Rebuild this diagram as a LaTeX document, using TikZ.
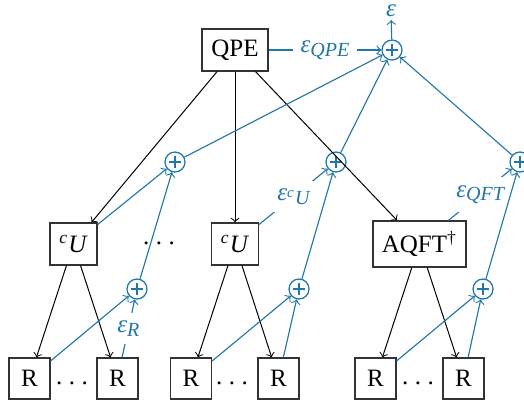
\documentclass[tikz,border=0pt]{standalone}
\usepackage{fontspec}
\setmainfont{Liberation Serif}
\definecolor{eblue}{RGB}{30,118,170}
\newcommand{\errsub}[1]{\raisebox{-1.4pt}{\fontsize{8}{9}\selectfont\itshape #1}}
\begin{document}
\begin{tikzpicture}[x=0.4pt,y=-0.4pt,
  box/.style={draw=black!80, line width=0.5pt, inner sep=1pt, minimum height=16.8pt},
  rbox/.style={box, minimum width=16.4pt, minimum height=16.4pt},
  sumnode/.style={circle, draw=eblue, line width=0.5pt, minimum size=8pt, inner sep=0pt,
    path picture={\draw[eblue, line width=0.9pt]
      ([xshift=-2.5pt]path picture bounding box.center) -- ([xshift=2.5pt]path picture bounding box.center)
      ([yshift=-2.5pt]path picture bounding box.center) -- ([yshift=2.5pt]path picture bounding box.center);}},
  tree/.style={->, black, line width=0.4pt},
  err/.style={->, eblue, line width=0.45pt},
  lab/.style={midway, fill=white, text=eblue, inner sep=3.2pt, font=\itshape}]
\useasboundingbox (0,0) rectangle (524,403);
% main nodes
\node[box, minimum width=26.4pt] (qpe) at (235,50) {QPE};
\node[sumnode] (s0) at (392,50) {};
\node[text=eblue, inner sep=1pt, font=\itshape] (eps) at (391,11) {ε};
\node[box, minimum width=18.8pt] (cu1) at (73.5,244) {\textsuperscript{\itshape c}\textit{U}};
\node[box, minimum width=18.8pt] (cu2) at (235,244) {\textsuperscript{\itshape c}\textit{U}};
\node[box, minimum width=37.2pt, minimum height=18.4pt] (aqft) at (419.5,244) {AQFT\textsuperscript{†}};
\node[inner sep=0pt] (d0) at (159,243) {.\hspace{2.6pt}.\hspace{2.6pt}.};
\node[sumnode] (s1) at (175,162) {};
\node[sumnode] (s2) at (336,162) {};
\node[sumnode] (s3) at (520,162) {};
\node[sumnode] (t1) at (137,289) {};
\node[sumnode] (t2) at (299,289) {};
\node[sumnode] (t3) at (483,289) {};
\node[rbox] (r1) at (29.5,378.5) {R};
\node[rbox] (r2) at (117.5,378.5) {R};
\node[rbox] (r3) at (191,378.5) {R};
\node[rbox] (r4) at (278.5,378.5) {R};
\node[rbox] (r5) at (375.5,378.5) {R};
\node[rbox] (r6) at (463.5,378.5) {R};
\node[inner sep=0pt] (d1) at (72,383) {.\hspace{2.6pt}.\hspace{2.6pt}.};
\node[inner sep=0pt] (d2) at (232,383) {.\hspace{2.6pt}.\hspace{2.6pt}.};
\node[inner sep=0pt] (d3) at (418,383) {.\hspace{2.6pt}.\hspace{2.6pt}.};
% tree edges
\draw[tree] (qpe) -- (cu1);
\draw[tree] (qpe) -- (cu2);
\draw[tree] (qpe) -- (aqft);
\draw[tree] (cu1) -- (r1);
\draw[tree] (cu1) -- (r2);
\draw[tree] (cu2) -- (r3);
\draw[tree] (cu2) -- (r4);
\draw[tree] (aqft) -- (r5);
\draw[tree] (aqft) -- (r6);
% error edges
\draw[err] (qpe) -- node[lab] {ε\errsub{QPE}} (s0);
\draw[err] (s0) -- (eps);
\draw[err] (s1) -- (s0);
\draw[err] (s2) -- (s0);
\draw[err] (s3) -- (s0);
\draw[err] (cu1) -- (s1);
\draw[err] (t1) -- (s1);
\draw[err] (cu2) -- node[lab] {ε\errsub{\textsuperscript{c}U}} (s2);
\draw[err] (t2) -- (s2);
\draw[err] (aqft) -- node[lab] {ε\errsub{QFT}} (s3);
\draw[err] (t3) -- (s3);
\draw[err] (r1) -- (t1);
\draw[err] (r2) -- node[lab] {ε\errsub{R}} (t1);
\draw[err] (r3) -- (t2);
\draw[err] (r4) -- (t2);
\draw[err] (r5) -- (t3);
\draw[err] (r6) -- (t3);
\end{tikzpicture}
\end{document}
